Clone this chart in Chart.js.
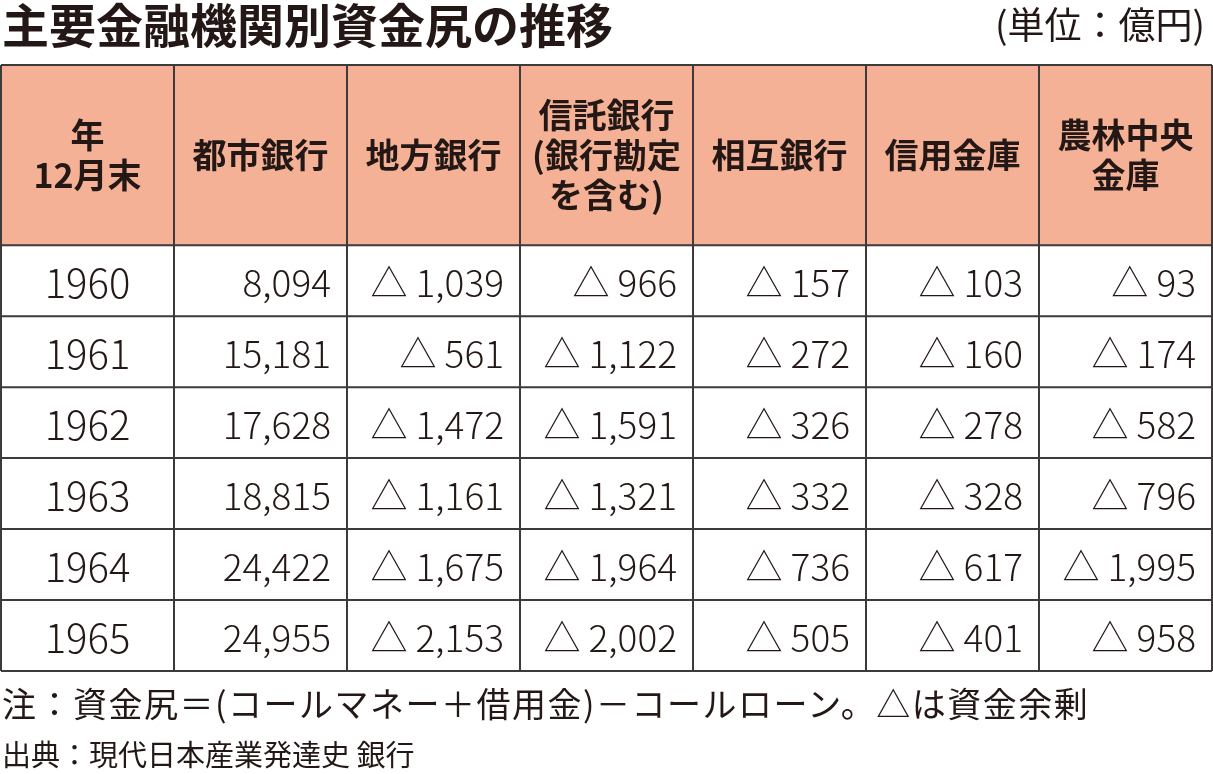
<!DOCTYPE html>
<html lang="ja">
<head>
<meta charset="UTF-8">
<title>主要金融機関別資金尻の推移</title>
<script src="https://cdn.jsdelivr.net/npm/chart.js"></script>
<style>
  body { margin:0; background:#fff; font-family:"Noto Sans CJK JP", sans-serif; color:#231815; }
  .wrap { position:relative; width:1213px; height:774px; overflow:hidden; }
  canvas { position:absolute; left:0; top:0; }
  .title { position:absolute; left:2px; top:-12px; font-size:47px; font-weight:700; }
  .unit { position:absolute; right:8px; top:-4px; font-size:37px; }
  .note { position:absolute; left:2px; top:678px; font-size:34px; letter-spacing:1.5px; white-space:nowrap; }
  .src { position:absolute; left:2px; top:732px; font-size:29px; }
</style>
</head>
<body>
<div class="wrap">
  <canvas id="tbl" width="1213" height="774"></canvas>
  <div class="title">主要金融機関別資金尻の推移</div>
  <div class="unit">(単位：億円)</div>
  <div class="note">注：資金尻＝(コールマネー＋借用金)－コールローン。△は資金余剰</div>
  <div class="src">出典：現代日本産業発達史 銀行</div>
</div>
<script>
// データ
const headers = [['年','12月末'],['都市銀行'],['地方銀行'],['信託銀行','(銀行勘定','を含む)'],['相互銀行'],['信用金庫'],['農林中央','金庫']];
const years = ['1960','1961','1962','1963','1964','1965'];
const toshi = [8094, 15181, 17628, 18815, 24422, 24955];
const chiho = [-1039, -561, -1472, -1161, -1675, -2153];
const shintaku = [-966, -1122, -1591, -1321, -1964, -2002];
const sogo = [-157, -272, -326, -332, -736, -505];
const shinkin = [-103, -160, -278, -328, -617, -401];
const norin = [-93, -174, -582, -796, -1995, -958];
const series = [toshi, chiho, shintaku, sogo, shinkin, norin];

const HEAD = 2.54; // ヘッダー行の高さ(行単位)
const fmt = v => v < 0 ? '△ ' + (-v).toLocaleString('en-US') : v.toLocaleString('en-US');

const tablePlugin = {
  id: 'table',
  afterDraw(chart) {
    const ctx = chart.ctx, x = chart.scales.x, y = chart.scales.y;
    const px = i => x.getPixelForValue(i);
    const py = v => y.getPixelForValue(v);
    const nRows = years.length, nCols = headers.length;
    ctx.save();
    ctx.fillStyle = '#f4b195';
    ctx.fillRect(px(0), py(0), px(nCols) - px(0), py(HEAD) - py(0));
    // ヘッダー
    ctx.fillStyle = '#231815';
    ctx.font = '700 34px "Noto Sans CJK JP"';
    ctx.textAlign = 'center';
    ctx.textBaseline = 'middle';
    headers.forEach((lines, c) => {
      const cx = (px(c) + px(c + 1)) / 2, cy = (py(0) + py(HEAD)) / 2;
      const lh = 40;
      lines.forEach((t, k) => ctx.fillText(t, cx, cy + (k - (lines.length - 1) / 2) * lh));
    });
    // 本体
    years.forEach((yr, r) => {
      const cy = (py(HEAD + r) + py(HEAD + r + 1)) / 2 + 2;
      ctx.font = '300 40px "Noto Sans CJK JP"';
      ctx.textAlign = 'center';
      ctx.fillText(yr, (px(0) + px(1)) / 2, cy);
      ctx.font = '300 37px "Noto Sans CJK JP"';
      ctx.textAlign = 'right';
      series.forEach((s, c) => ctx.fillText(fmt(s[r]), px(c + 2) - 16, cy));
    });
    // 罫線
    ctx.strokeStyle = '#3e3a39';
    ctx.lineWidth = 2;
    ctx.beginPath();
    for (let c = 0; c <= nCols; c++) { ctx.moveTo(px(c), py(0)); ctx.lineTo(px(c), py(HEAD + nRows)); }
    ctx.moveTo(px(0), py(0)); ctx.lineTo(px(nCols), py(0));
    for (let r = 0; r <= nRows; r++) { ctx.moveTo(px(0), py(HEAD + r)); ctx.lineTo(px(nCols), py(HEAD + r)); }
    ctx.stroke();
    ctx.restore();
  }
};

new Chart(document.getElementById('tbl'), {
  type: 'scatter',
  data: { datasets: [{ data: [] }] },
  options: {
    responsive: false, animation: false,
    layout: { padding: { left: 1, right: 1, top: 65, bottom: 103 } },
    plugins: { legend: { display: false }, tooltip: { enabled: false } },
    scales: {
      x: { type: 'linear', min: 0, max: headers.length, display: false },
      y: { type: 'linear', min: 0, max: HEAD + years.length, reverse: true, display: false }
    }
  },
  plugins: [tablePlugin]
});
</script>
</body>
</html>
